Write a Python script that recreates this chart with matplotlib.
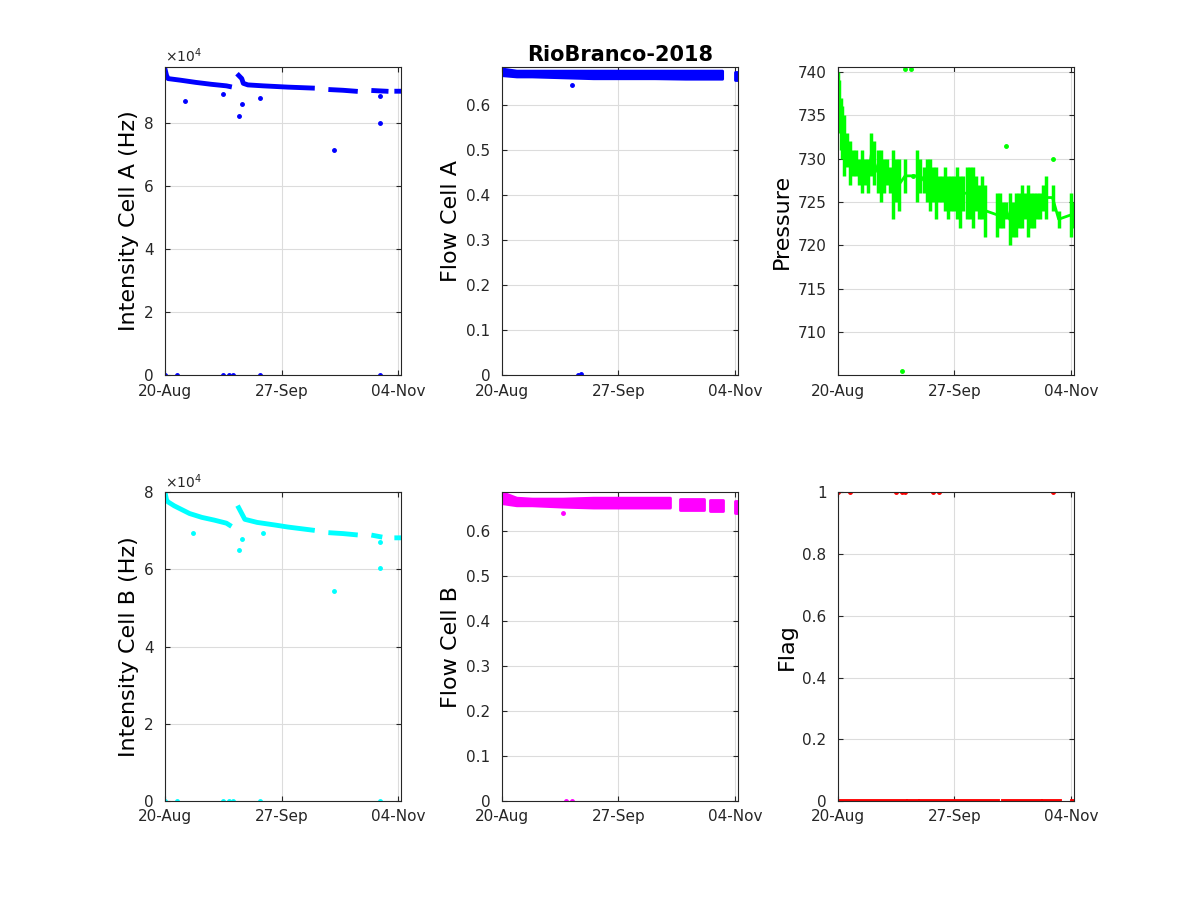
import numpy as np
import matplotlib
matplotlib.use("Agg")
import matplotlib.pyplot as plt
from matplotlib.ticker import FuncFormatter

# days since 20-Aug-2018
tick_days = [0, 38, 76]
tick_labels = ["20-Aug", "27-Sep", "04-Nov"]

# Intensity A (Hz) main trace, NaN = gap
ia_day = [0, 0.5, 1, 5, 10, 15, 20, 21, np.nan, 24, 25, 25.5, 27, 32, 40, 48, np.nan, 54, 58, 62, np.nan, 68, 72, np.nan, 75.5, 77]
ia_val = [9.7e4, 9.5e4, 9.4e4, 9.35e4, 9.28e4, 9.22e4, 9.17e4, 9.15e4, np.nan, 9.5e4, 9.4e4, 9.25e4, 9.2e4, 9.17e4, 9.13e4, 9.1e4, np.nan, 9.05e4, 9.03e4, 9.0e4, np.nan, 9.02e4, 9.0e4, np.nan, 9.0e4, 9.0e4]
ia_out_day = [6.5, 19, 24, 25, 31, 55, 70, 70]
ia_out_val = [8.7e4, 8.9e4, 8.2e4, 8.6e4, 8.8e4, 7.15e4, 8.0e4, 8.85e4]
zero_days = [0, 4, 19, 21, 22, 31, 70]

# Intensity B (Hz)
ib_day = [0, 0.5, 1, 3, 8, 12, 16, 20, 21, np.nan, 24, 25, 26, 30, 36, 40, 48, np.nan, 54, 58, 62, np.nan, 68, 70, np.nan, 75.5, 77]
ib_val = [8.0e4, 7.8e4, 7.75e4, 7.65e4, 7.45e4, 7.35e4, 7.28e4, 7.2e4, 7.15e4, np.nan, 7.6e4, 7.45e4, 7.3e4, 7.22e4, 7.15e4, 7.1e4, 7.02e4, np.nan, 6.95e4, 6.93e4, 6.9e4, np.nan, 6.88e4, 6.85e4, np.nan, 6.82e4, 6.82e4]
ib_out_day = [9, 24, 25, 32, 55, 70, 70]
ib_out_val = [6.95e4, 6.5e4, 6.8e4, 6.95e4, 5.45e4, 6.05e4, 6.7e4]

# Flow cells: lower/upper band edges
fa_day = [0, 5, 10, 20, 30, 40, 50, 60, 70, 72, np.nan, 76, 77]
fa_lo = [0.665, 0.662, 0.662, 0.66, 0.658, 0.658, 0.658, 0.657, 0.657, 0.657, np.nan, 0.655, 0.655]
fa_hi = [0.68, 0.675, 0.675, 0.675, 0.675, 0.675, 0.675, 0.675, 0.675, 0.675, np.nan, 0.673, 0.673]
fa_out_day = [23, 25, 26]
fa_out_val = [0.645, 0.0, 0.002]

fb_day = [0, 5, 10, 20, 30, 40, 50, 55, np.nan, 58, 66, np.nan, 68, 72, np.nan, 76, 77]
fb_lo = [0.66, 0.655, 0.655, 0.652, 0.65, 0.65, 0.65, 0.65, np.nan, 0.645, 0.645, np.nan, 0.643, 0.643, np.nan, 0.64, 0.64]
fb_hi = [0.685, 0.672, 0.67, 0.67, 0.672, 0.672, 0.672, 0.672, np.nan, 0.67, 0.67, np.nan, 0.668, 0.668, np.nan, 0.665, 0.665]
fb_out_day = [20, 21, 23]
fb_out_val = [0.64, 0.0, 0.0]

# Pressure: per-day range
p_day = [0, 0.5, 1, 1.5, 2, 3, 4, 5, 6, 7, 8, 9, 10, 11, 12, 13, 14, 15, 16, 17, 18, 19, 20, 22, 26, 27, 28, 29, 30, 31, 32, 33, 34, 35, 36, 37, 38, 39, 40, 41, 42, 43, 44, 45, 46, 47, 48, 52, 53, 54, 55, 56, 57, 58, 59, 60, 61, 62, 63, 64, 65, 66, 67, 68, 70, 72, 76, 77]
p_lo = [734, 733, 731, 730, 728, 729, 727, 728, 728, 727, 726, 727, 726, 728, 727, 726, 725, 726, 727, 726, 723, 725, 724, 726, 725, 726, 726, 725, 724, 725, 723, 725, 725, 724, 723, 724, 724, 723, 722, 724, 723, 723, 722, 724, 723, 723, 721, 721, 722, 722, 723, 720, 721, 721, 722, 722, 723, 721, 722, 722, 723, 723, 724, 723, 724, 722, 721, 722]
p_hi = [740, 739, 737, 736, 735, 733, 732, 731, 731, 730, 731, 730, 730, 733, 732, 731, 731, 730, 730, 729, 731, 730, 730, 730, 731, 730, 729, 730, 730, 729, 729, 728, 728, 729, 728, 728, 728, 729, 728, 728, 729, 729, 729, 728, 727, 728, 727, 726, 726, 725, 725, 726, 725, 726, 726, 727, 726, 727, 726, 726, 726, 726, 727, 728, 727, 724, 726, 725]
p_out_day = [21, 22, 24, 24.5, 55, 70]
p_out_val = [705.5, 740.3, 740.3, 728, 731.5, 730]

# Flag
flag_seg_day = [0, 22, np.nan, 23, 25, 26, np.nan, 27, 52, np.nan, 54, 66, np.nan, 67, 72, np.nan, 76.5, 77]
flag_seg_val = [0, 0, np.nan, 0, 0, 0, np.nan, 0, 0, np.nan, 0, 0, np.nan, 0, 0, np.nan, 0, 0]
flag_one_day = [0, 4, 19, 21, 22, 31, 33, 70]

BLUE, CYAN, MAG, GREEN, RED = "#0000ff", "#00ffff", "#ff00ff", "#00ff00", "#ff0000"

fig = plt.figure(figsize=(12, 9), dpi=100)
lefts = [0.1375, 0.418, 0.698]
bottoms = [0.583, 0.11]
w, h = 0.197, 0.343
axs = [[fig.add_axes([l, b, w, h]) for l in lefts] for b in bottoms]

ms = 5
ax = axs[0][0]
ax.plot(ia_day, ia_val, color=BLUE, lw=3.5)
ax.plot(ia_out_day, ia_out_val, ".", color=BLUE, ms=ms)
ax.plot(zero_days, [0] * len(zero_days), ".", color=BLUE, ms=ms)
ax.set_ylim(0, 9.78e4)
ax.set_ylabel("Intensity Cell A (Hz)")

ax = axs[1][0]
ax.plot(ib_day, ib_val, color=CYAN, lw=3.5)
ax.plot(ib_out_day, ib_out_val, ".", color=CYAN, ms=ms)
ax.plot(zero_days, [0] * len(zero_days), ".", color=CYAN, ms=ms)
ax.set_ylim(0, 8.0e4)
ax.set_ylabel("Intensity Cell B (Hz)")

for ax in (axs[0][0], axs[1][0]):
    ticks = np.arange(0, 9e4, 2e4)
    ax.set_yticks(ticks)
    ax.set_yticklabels([f"{t/1e4:.0f}" for t in ticks])
    ax.text(0, 1.005, r"$\times10^4$", transform=ax.transAxes, fontsize=10, va="bottom", color="#262626")

ax = axs[0][1]
ax.fill_between(fa_day, fa_lo, fa_hi, color=BLUE, lw=2, edgecolor=BLUE)
ax.plot(fa_out_day, fa_out_val, ".", color=BLUE, ms=ms)
ax.set_ylim(0, 0.685)
ax.set_ylabel("Flow Cell A")

ax = axs[1][1]
ax.fill_between(fb_day, fb_lo, fb_hi, color=MAG, lw=2, edgecolor=MAG)
ax.plot(fb_out_day, fb_out_val, ".", color=MAG, ms=ms)
ax.set_ylim(0, 0.685)
ax.set_ylabel("Flow Cell B")

ax = axs[0][2]
ax.vlines(p_day, p_lo, p_hi, color=GREEN, lw=2.5)
ax.plot(p_day, [(a + b) / 2 for a, b in zip(p_lo, p_hi)], color=GREEN, lw=2)
ax.plot(p_out_day, p_out_val, ".", color=GREEN, ms=ms)
ax.set_ylim(705, 740.6)
ax.set_yticks(range(710, 741, 5))
ax.set_ylabel("Pressure")

ax = axs[1][2]
ax.plot(flag_seg_day, flag_seg_val, color=RED, lw=3.5)
ax.plot(flag_one_day, [1] * len(flag_one_day), ".", color=RED, ms=ms)
ax.set_ylim(0, 1)
ax.set_ylabel("Flag")

fmt = FuncFormatter(lambda v, p: f"{v:g}")
for ax in (axs[0][1], axs[1][1], axs[1][2]):
    ax.yaxis.set_major_formatter(fmt)

for row in axs:
    for ax in row:
        ax.set_xlim(0, 77)
        ax.set_xticks(tick_days)
        ax.set_xticklabels(tick_labels)
        ax.grid(True, color="#dcdcdc", lw=0.8)
        ax.set_axisbelow(True)
        ax.tick_params(direction="in", labelsize=11, colors="#262626", top=True, right=True)
        ax.tick_params(axis="y", pad=8)
        ax.tick_params(axis="x", pad=6)
        ax.yaxis.label.set_size(16)
        for s in ax.spines.values():
            s.set_color("#262626")

axs[0][1].set_title("RioBranco-2018", fontsize=15, fontweight="bold", pad=4)

fig.savefig("out.png", dpi=100)
